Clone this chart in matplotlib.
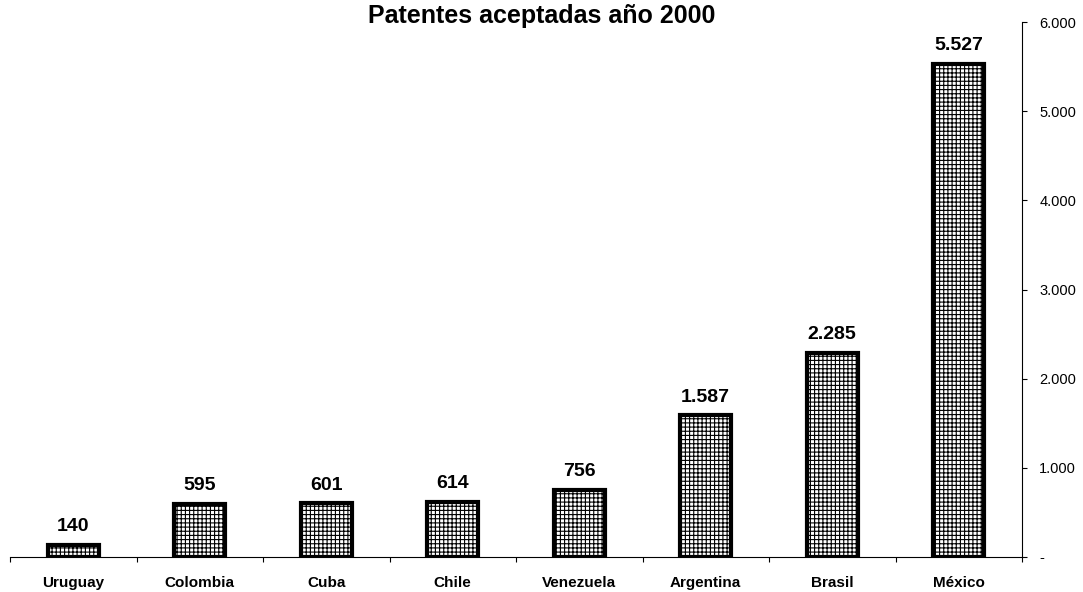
import matplotlib.pyplot as plt
import numpy as np

plt.rcParams['font.family'] = ['Liberation Sans', 'DejaVu Sans']
plt.rcParams['hatch.linewidth'] = 0.8

paises = ['Uruguay', 'Colombia', 'Cuba', 'Chile', 'Venezuela', 'Argentina', 'Brasil', 'México']
patentes = [140, 595, 601, 614, 756, 1587, 2285, 5527]
yticks = [0, 1000, 2000, 3000, 4000, 5000, 6000]


def fmt(v):
    return '-' if v == 0 else f'{v:,}'.replace(',', '.')


fig = plt.figure(figsize=(10.83, 5.92), dpi=100)
ax = fig.add_axes([10/1083, 1-557/592, 1012/1083, 535/592])

x = np.arange(len(paises))
ax.bar(x, patentes, width=0.4, color='white', edgecolor='black',
       linewidth=3, hatch='++++', zorder=3)
for xi, v in zip(x, patentes):
    ax.text(xi, v + 110, fmt(v), ha='center', va='bottom',
            fontsize=14, fontweight='bold')

ax.set_xlim(-0.5, len(paises) - 0.5)
ax.set_ylim(0, 6000)
ax.set_xticks(x)
ax.set_xticklabels(paises, fontsize=11, fontweight='bold')
ax.set_xticks(np.arange(len(paises) + 1) - 0.5, minor=True)
ax.tick_params(axis='x', which='major', length=0, pad=14)
ax.tick_params(axis='x', which='minor', length=3.5, width=0.8, direction='out')

ax.yaxis.tick_right()
ax.set_yticks(yticks)
ax.set_yticklabels([fmt(v) for v in yticks], fontsize=10.5)
ax.tick_params(axis='y', length=3.5, width=0.8, pad=9)

ax.spines['top'].set_visible(False)
ax.spines['left'].set_visible(False)
ax.spines['right'].set_linewidth(0.8)
ax.spines['bottom'].set_linewidth(0.8)

fig.text(0.5, 1 - 23/592, 'Patentes aceptadas año 2000', ha='center', va='baseline',
         fontsize=18, fontweight='bold')

fig.savefig('out.png', dpi=100)
